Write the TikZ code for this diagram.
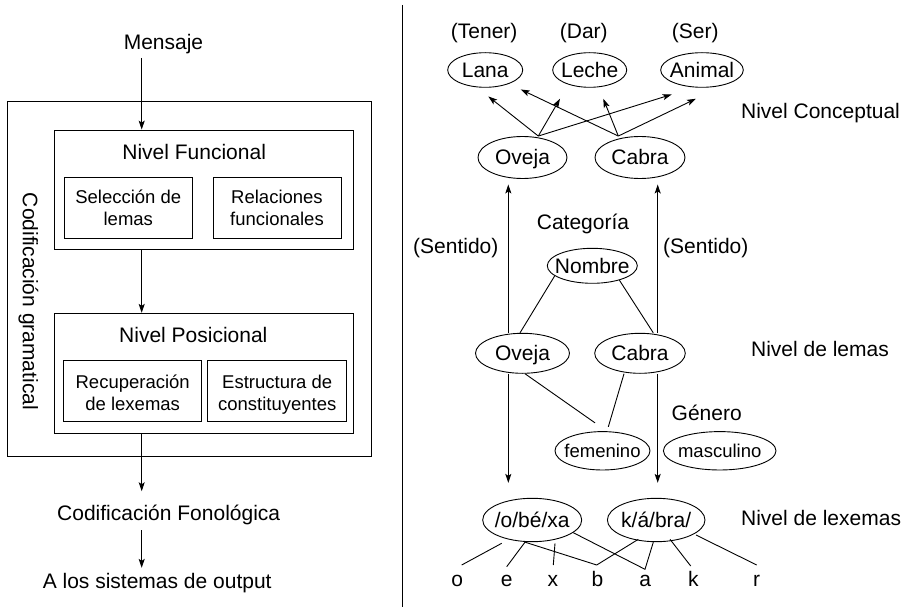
\documentclass[tikz,border=0pt]{standalone}
\usepackage{fontspec}
\setmainfont{Liberation Sans}
\usetikzlibrary{shapes.geometric,arrows.meta}
\begin{document}
\begin{tikzpicture}[x=1pt,y=-1pt,
  line width=0.9pt,
  big/.style={font=\fontsize{21pt}{25pt}\selectfont},
  small/.style={font=\fontsize{18.5pt}{22pt}\selectfont},
  lbl/.style={big, inner sep=0pt, text height=15pt, text depth=4.5pt, anchor=base},
  slbl/.style={small, inner sep=0pt, anchor=base},
  box/.style={draw, rectangle, inner sep=0pt},
  oval/.style={draw, ellipse, inner sep=0pt, big, text height=15pt, text depth=0pt},
  soval/.style={draw, ellipse, inner sep=0pt, small, text height=13.2pt, text depth=0pt},
  arr/.style={-{Stealth[length=9pt,width=6pt,inset=2pt]}},
]
\useasboundingbox (0,0) rectangle (904,609);

% ---------- left: grammatical encoding ----------
\node[lbl] (msg) at (163.5,50) {Mensaje};
\node[box, minimum width=363.7pt, minimum height=355.7pt] (outer) at (189.2,278.9) {};
\node[big, inner sep=0pt, rotate=-90, anchor=base] (cg) at (23,301.5) {Codificación gramatical};

\node[box, minimum width=299pt, minimum height=119.3pt] (nf) at (203.8,189.7) {};
\node[lbl] (nft) at (194.2,160) {Nivel Funcional};
\node[box, minimum width=128.3pt, minimum height=61.4pt] (sel) at (128.2,208) {};
\node[slbl] (sel1) at (128.3,204) {Selección de};
\node[slbl] (sel2) at (128.3,225.7) {lemas};
\node[box, minimum width=127.7pt, minimum height=61.4pt] (rel) at (277.2,208) {};
\node[slbl] (rel1) at (277,204) {Relaciones};
\node[slbl] (rel2) at (277,225.7) {funcionales};

\node[box, minimum width=299pt, minimum height=120pt] (np) at (203.8,373.3) {};
\node[lbl] (npt) at (193.3,342.7) {Nivel Posicional};
\node[box, minimum width=138.4pt, minimum height=61pt] (rec) at (132.5,390.5) {};
\node[slbl] (rec1) at (132.7,388.3) {Recuperación};
\node[slbl] (rec2) at (132.7,410) {de lexemas};
\node[box, minimum width=139pt, minimum height=61pt] (est) at (277.2,390.5) {};
\node[slbl] (est1) at (277.2,388.3) {Estructura de};
\node[slbl] (est2) at (277.2,410) {constituyentes};

\node[lbl] (cf) at (168.7,520) {Codificación Fonológica};
\node[lbl] (out) at (157.2,588.3) {A los sistemas de output};

\coordinate (ax) at (141.7,0);
\draw[arr, shorten <=3pt] (msg.south -| ax) -- (nf.north -| ax);
\draw[arr] (nf.south -| ax) -- (np.north -| ax);
\draw[arr, shorten >=13.3pt] (np.south -| ax) -- (cf.north -| ax);
\draw[arr, shorten <=5.5pt, shorten >=5pt] (cf.south -| ax) -- (out.north -| ax);

% ---------- divider ----------
\draw (402.3,5) -- (402.3,607);

% ---------- right: conceptual level ----------
\node[lbl] (tener) at (484.2,38.3) {(Tener)};
\node[lbl] (dar) at (583.8,38.3) {(Dar)};
\node[lbl] (ser) at (695.3,38.3) {(Ser)};
\node[oval, minimum width=75pt, minimum height=34.6pt] (lana) at (485.2,70) {\makebox[0pt]{Lana}};
\node[oval, minimum width=74pt, minimum height=34.6pt] (leche) at (589.7,70) {\makebox[0pt]{Leche}};
\node[oval, minimum width=82.6pt, minimum height=34.6pt] (animal) at (702,70) {\makebox[0pt]{Animal}};
\node[lbl, anchor=base west] (nc) at (740.7,118.3) {Nivel Conceptual};

\node[oval, minimum width=89pt, minimum height=42pt] (ov1) at (522.5,157.5) {\makebox[0pt]{Oveja}};
\node[oval, minimum width=90pt, minimum height=42pt] (cb1) at (640,157.5) {\makebox[0pt]{Cabra}};

\draw[arr] ([xshift=15.8pt]ov1.north) -- ([xshift=3.1pt,yshift=-8.7pt]lana.south);
\draw[arr] ([xshift=15.8pt]ov1.north) -- ([xshift=-29.7pt,yshift=-11pt]leche.south);
\draw[arr] ([xshift=15.8pt]ov1.north) -- ([xshift=-30.3pt,yshift=-6.7pt]animal.south);
\draw[arr] ([xshift=-21.7pt]cb1.north) -- ([xshift=35.5pt,yshift=-1.7pt]lana.south);
\draw[arr] ([xshift=-21.7pt]cb1.north) -- ([xshift=13.6pt,yshift=-11pt]leche.south);
\draw[arr] ([xshift=-21.7pt]cb1.north) -- ([xshift=-6pt,yshift=-11pt]animal.south);

% ---------- lemma level ----------
\node[lbl] (cat) at (583,230) {Categoría};
\node[lbl] (sentL) at (455.8,253.3) {(Sentido)};
\node[lbl] (sentR) at (705.8,253.3) {(Sentido)};
\node[oval, minimum width=90pt, minimum height=35pt] (nombre) at (592.3,265.8) {\makebox[0pt]{Nombre}};
\node[oval, minimum width=94pt, minimum height=40pt] (ov2) at (522.5,353.3) {\makebox[0pt]{Oveja}};
\node[oval, minimum width=90.6pt, minimum height=40pt] (cb2) at (640,353.3) {\makebox[0pt]{Cabra}};
\node[lbl, anchor=base west] (nl) at (750.7,356.7) {Nivel de lemas};

\coordinate (laneL) at ([xshift=-14.2pt]ov2.north);
\coordinate (laneR) at ([xshift=17.7pt]cb2.north);
\draw[arr, shorten >=5.5pt] (laneL) -- (laneL |- ov1.south);
\draw[arr, shorten >=5.5pt] (laneR) -- (laneR |- cb1.south);

\draw (nombre.195) -- ([xshift=-2.5pt]ov2.north);
\draw (nombre.-28) -- ([xshift=13.3pt]cb2.north);

\node[lbl] (gen) at (706.7,420.7) {Género};
\node[soval, minimum width=95pt, minimum height=38.4pt] (fem) at (602.5,450.8) {\makebox[0pt]{femenino}};
\node[soval, minimum width=112.6pt, minimum height=38.4pt] (masc) at (719.7,450.8) {\makebox[0pt]{masculino}};

\draw ([xshift=2.5pt]ov2.south) -- ([xshift=-7.5pt,yshift=8.3pt]fem.north);
\draw ([xshift=-16pt]cb2.south) -- ([xshift=5.8pt,yshift=4.3pt]fem.north);

% ---------- lexeme level ----------
\node[oval, minimum width=99pt, minimum height=43.4pt] (obexa) at (532.2,520) {\makebox[0pt]{/o/bé/xa}};
\node[oval, minimum width=97.6pt, minimum height=43.4pt] (kabra) at (656.2,520) {\makebox[0pt]{k/á/bra/}};
\node[lbl, anchor=base west] (nx) at (740.7,525.7) {Nivel de lexemas};

\coordinate (laneL2) at ([xshift=-14.2pt]ov2.south);
\coordinate (laneR2) at ([xshift=17.7pt]cb2.south);
\draw[arr, shorten >=15pt] (laneL2) -- (laneL2 |- obexa.north);
\draw[arr, shorten >=15pt] (laneR2) -- (laneR2 |- kabra.north);

\node[lbl] (l-o) at (457.2,586.7) {o};
\node[lbl] (l-e) at (506.7,586.7) {e};
\node[lbl] (l-x) at (552.8,586.7) {x};
\node[lbl] (l-b) at (597.5,586.7) {b};
\node[lbl] (l-a) at (645.3,586.7) {a};
\node[lbl] (l-k) at (693.3,586.7) {k};
\node[lbl] (l-r) at (756.7,586.7) {r};

\draw ([shift={(-30.5pt,-23.3pt)}]obexa.center) -- ([xshift=4.5pt,yshift=21.7pt]l-o.base);
\draw ([xshift=-7.2pt]obexa.south) -- ([yshift=20pt]l-e.base);
\draw ([shift={(22.8pt,-23.3pt)}]obexa.center) -- ([xshift=0.5pt,yshift=21.7pt]l-x.base);
\draw ([xshift=-7.2pt]obexa.south) -- ([xshift=-0.8pt,yshift=21.7pt]l-b.base)
      -- ([shift={(-17.9pt,-19.3pt)}]kabra.center);
\draw ([shift={(41.1pt,-12.7pt)}]obexa.center) -- ([xshift=-0.3pt,yshift=17.4pt]l-a.base)
      -- ([xshift=-2.9pt]kabra.south);
\draw ([shift={(13.8pt,-19.3pt)}]kabra.center) -- ([xshift=-2.6pt,yshift=20.7pt]l-k.base);
\draw ([shift={(39.8pt,-15pt)}]kabra.center) -- ([yshift=21.7pt]l-r.base);

\end{tikzpicture}
\end{document}
